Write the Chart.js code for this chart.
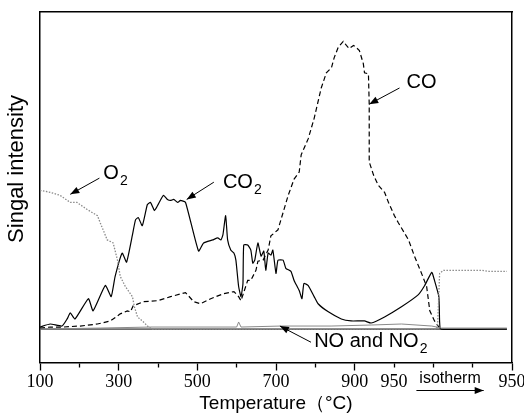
<!DOCTYPE html>
<html><head><meta charset="utf-8">
<script src="https://cdn.jsdelivr.net/npm/chart.js@4/dist/chart.umd.min.js"></script>
<style>html,body{margin:0;padding:0;background:#fff}</style>
</head><body>
<canvas id="c" width="524" height="415"></canvas>
<script>
// x in axis units (10 units per tick interval), y in arbitrary intensity units
const tickLabels = ['100','','300','','500','','700','','900','950','','','950'];
const majorTicks = [0, 20, 40, 60, 80, 120];

const co2X = [0,2.6,5.6,6.9,7.7,8.9,12.3,13.5,16.6,18.1,19.1,20.9,22.0,23.5,24.3,25.0,26.0,27.3,28.1,29.1,29.9,31.4,32.4,33.2,34.0,35.0,35.7,37.0,40.3,41.6,43.9,45.2,46.0,46.5,47.2,47.7,48.5,49.3,49.8,50.5,51.1,51.6,51.8,52.8,53.6,54.1,54.6,55.4,56.2,56.9,57.4,58.0,58.7,59.2,60.0,60.5,61.8,62.5,63.8,64.6,65.9,66.6,67.1,68.2,69.7,70.7,73.3,76.6,79.1,82.5,84.2,87.6,91.9,96.2,97.8,99.6,100.3,101.4,101.6,101.9,118.7];
const co2Y = [2,5,3,10,16,10,30,18,43,32,52,75,66,93,108,110,102,123,125,117,122,132,128,127,128,125,127,125,77,85,88,90,88,93,112,88,78,75,68,42,32,45,83,83,78,65,68,85,72,77,58,75,73,78,55,68,68,60,57,48,38,30,45,43,32,25,17,10,8,8,6,12,22,34,43,56,48,32,7,0,0];

const coX = [0,2.6,5.9,10.2,14.6,17.9,20.4,22.2,23.0,23.7,26.3,29.9,33.2,37.0,39.1,40.8,43.4,46.7,49.3,50.5,51.1,52.8,53.6,54.9,55.4,56.7,58.0,58.7,60.5,63.1,64.6,65.9,66.4,68.2,69.7,71.5,72.8,74.1,74.8,75.8,77.1,77.9,78.6,79.7,80.4,81.2,82.2,82.5,83.5,83.7,83.7,84.8,86.0,87.6,88.6,90.1,91.1,93.7,95.2,97.0,98.3,99.1,100.3,101.4,102.1];
const coY = [1,2,2,3,5,8,15,18,17,23,27,28,32,36,27,25,30,35,37,32,28,48,48,58,67,68,78,92,98,132,148,155,172,188,208,238,253,258,268,278,284,280,277,280,278,275,262,253,252,222,165,152,142,135,125,112,105,88,72,55,42,18,8,2,0];

const o2X = [0,2.6,5.1,7.7,9.4,12.0,14.6,15.3,17.1,18.6,19.7,20.4,21.7,23.5,24.0,24.8,26.3,27.6,28.6,100.8,101.1,101.6,102.6,107.2,112.3,114.1,118.7];
const o2Y = [137,135,132,125,125,118,112,105,88,85,68,52,42,32,22,12,7,2,0,0,5,55,58,58,58,57,57];

const noX = [0,15.3,28.1,50.0,50.5,51.1,61.3,74.0,84.2,91.9,99.6,102.1,118.7];
const noY = [0,1,2,2,7,2,3,3,4,5,3,1,1];

const no2X = [0,118.7];
const no2Y = [0,0];

const pts = (xs, ys) => xs.map((x, i) => ({x, y: ys[i]}));

const notes = [
  {text:'O', sub:'2', tx:16.1, ty:154, ax1:15.1, ay1:149, ax2:7.7, ay2:133},
  {text:'CO', sub:'2', tx:46.5, ty:145, ax1:44.2, ay1:145, ax2:37.3, ay2:128},
  {text:'CO', sub:'', tx:93.2, ty:243, ax1:91.4, ay1:238, ax2:83.7, ay2:222},
  {text:'NO and NO', sub:'2', tx:69.7, ty:-12, ax1:68.9, ay1:-13, ax2:61.0, ay2:3}
];

function arrow(ctx, x1, y1, x2, y2) {
  ctx.beginPath(); ctx.moveTo(x1, y1); ctx.lineTo(x2, y2); ctx.stroke();
  const a = Math.atan2(y2 - y1, x2 - x1), L = 9, W = 3.5;
  ctx.beginPath(); ctx.moveTo(x2, y2);
  ctx.lineTo(x2 - L*Math.cos(a) + W*Math.sin(a), y2 - L*Math.sin(a) - W*Math.cos(a));
  ctx.lineTo(x2 - L*Math.cos(a) - W*Math.sin(a), y2 - L*Math.sin(a) + W*Math.cos(a));
  ctx.closePath(); ctx.fill();
}

const notePlugin = {
  id: 'notes',
  afterDraw(chart) {
    const ctx = chart.ctx, xs = chart.scales.x, ys = chart.scales.y;
    ctx.save();
    ctx.fillStyle = '#000'; ctx.strokeStyle = '#000'; ctx.lineWidth = 1;
    notes.forEach(n => {
      arrow(ctx, xs.getPixelForValue(n.ax1), ys.getPixelForValue(n.ay1), xs.getPixelForValue(n.ax2), ys.getPixelForValue(n.ay2));
      const tx = xs.getPixelForValue(n.tx), ty = ys.getPixelForValue(n.ty);
      ctx.font = '20px "Liberation Sans", Arial, sans-serif';
      ctx.textAlign = 'left'; ctx.textBaseline = 'middle';
      ctx.fillText(n.text, tx, ty);
      if (n.sub) {
        const w = ctx.measureText(n.text).width;
        ctx.font = '14px "Liberation Sans", Arial, sans-serif';
        ctx.fillText(n.sub, tx + w + 1, ty + 8);
      }
    });
    // isotherm label below axis
    const b = chart.chartArea.bottom;
    const ix1 = xs.getPixelForValue(95.7), ix2 = xs.getPixelForValue(112.8);
    ctx.font = '16px "Liberation Sans", Arial, sans-serif';
    ctx.textAlign = 'center'; ctx.textBaseline = 'alphabetic';
    ctx.fillText('isotherm', (ix1 + ix2) / 2, b + 20);
    arrow(ctx, ix1, b + 28, ix2, b + 28);
    ctx.restore();
  }
};

new Chart(document.getElementById('c'), {
  type: 'line',
  data: {
    datasets: [
      {label:'O2', data: pts(o2X, o2Y), borderColor:'#8a8a8a', borderWidth:1.3, borderDash:[1.5,1.5], pointRadius:0, tension:0},
      {label:'NO', data: pts(noX, noY), borderColor:'#8a8a8a', borderWidth:1, pointRadius:0, tension:0},
      {label:'NO2', data: pts(no2X, no2Y), borderColor:'#000', borderWidth:1, pointRadius:0, tension:0},
      {label:'CO', data: pts(coX, coY), borderColor:'#000', borderWidth:1.2, borderDash:[5,3], pointRadius:0, tension:0},
      {label:'CO2', data: pts(co2X, co2Y), borderColor:'#000', borderWidth:1.2, pointRadius:0, tension:0.15}
    ]
  },
  options: {
    responsive: false, animation: false,
    font: {family: '"Liberation Sans", Arial, sans-serif'},
    layout: {padding: {left: 4, right: 12, top: 12, bottom: 1.5}},
    plugins: {legend: {display: false}, tooltip: {enabled: false}},
    scales: {
      x: {
        type: 'linear', position: 'bottom', min: 0, max: 120,
        afterFit: s => { s.paddingRight = 0; s.paddingLeft = 0; },
        ticks: {stepSize: 10, autoSkip: false, maxRotation: 0, color: '#000', padding: 3,
          font: {family: '"Liberation Serif", "Times New Roman", serif', size: 18, lineHeight: 1},
          callback: v => tickLabels[Math.round(v / 10)] ?? ''},
        grid: {display: true, drawOnChartArea: false, drawTicks: true, tickLength: 8, tickColor: '#000', tickWidth: 1.3,
          tickBorderDash: ctx => majorTicks.includes(ctx.tick ? ctx.tick.value : -1) ? [] : [4, 20]},
        border: {display: true, color: '#000', width: 1.5},
        title: {display: true, text: 'Temperature（°C)', color: '#000', padding: {top: 0, bottom: 0},
          font: {family: '"Liberation Sans", Arial, sans-serif', size: 19, lineHeight: 1}}
      },
      x2: {
        type: 'linear', position: 'top', min: 0, max: 120,
        afterFit: s => { s.paddingRight = 0; s.paddingLeft = 0; },
        ticks: {display: false}, grid: {display: false, drawTicks: false},
        border: {display: true, color: '#000', width: 1.5}
      },
      y: {
        type: 'linear', position: 'left', min: -33, max: 313,
        ticks: {display: false}, grid: {display: false, drawTicks: false},
        border: {display: true, color: '#000', width: 1.5},
        title: {display: true, text: '      Singal intensity', color: '#000', padding: {top: 0, bottom: 9.6},
          font: {family: '"Liberation Sans", Arial, sans-serif', size: 22}}
      },
      y2: {
        type: 'linear', position: 'right', min: -33, max: 313,
        ticks: {display: false}, grid: {display: false, drawTicks: false},
        border: {display: true, color: '#000', width: 1.5}
      }
    }
  },
  plugins: [notePlugin]
});
</script>
</body></html>
